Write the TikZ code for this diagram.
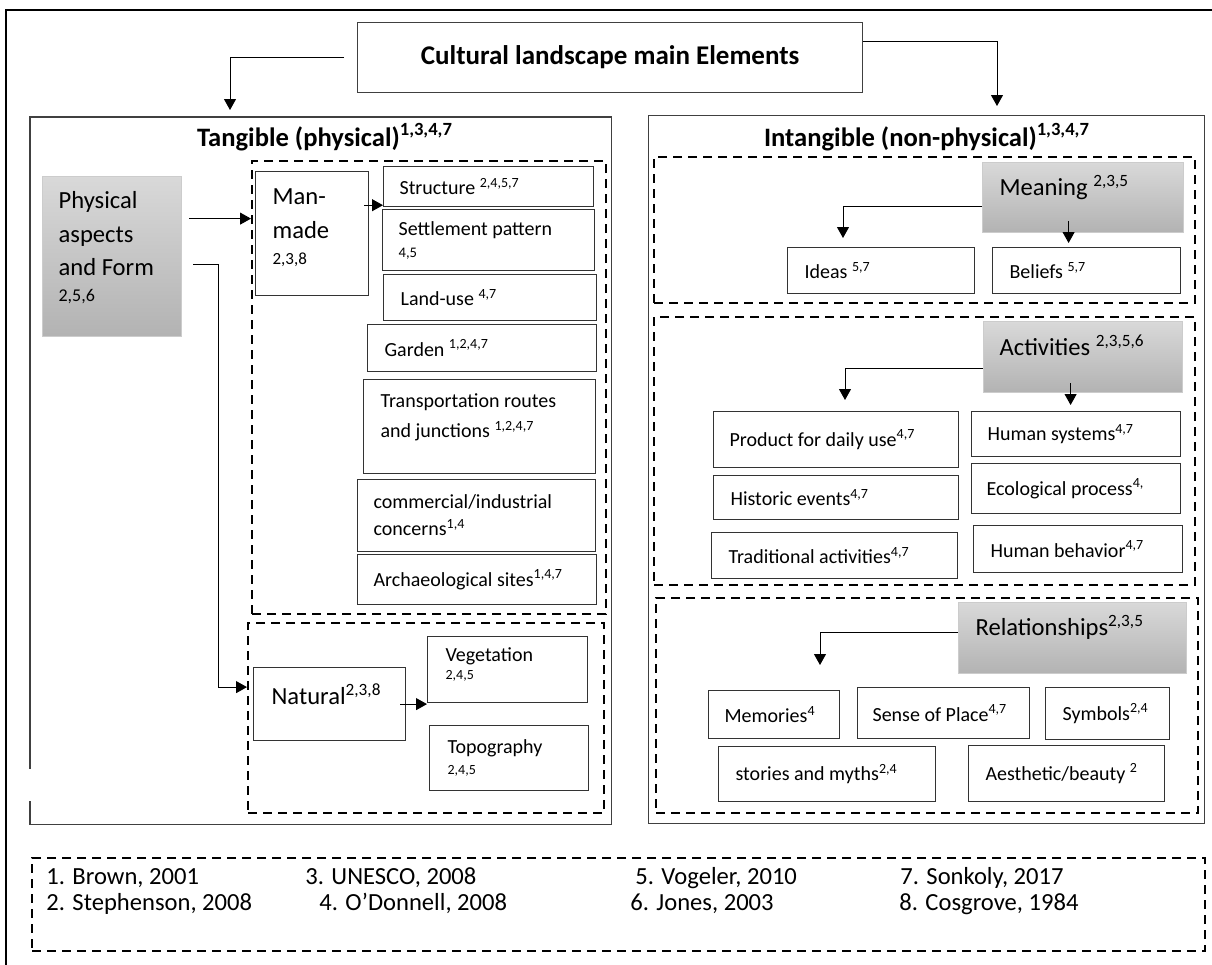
\documentclass[tikz,border=0pt]{standalone}
\usepackage{fontspec}
\setmainfont{Carlito}
\usepackage{tikz}
\usetikzlibrary{calc}
\usetikzlibrary{arrows.meta}
\tikzstyle{panelbox}=[anchor=north west, inner sep=0pt, draw=black!75, line width=0.6pt]
\tikzstyle{groupbox}=[anchor=north west, inner sep=0pt, draw=black, line width=1.1pt, dash pattern=on 4.5pt off 3pt]
\tikzstyle{itembox}=[anchor=north west, inner ysep=0pt, draw=black!80, line width=0.6pt, align=flush left, font=\fontsize{10}{12.2}\selectfont]
\tikzstyle{greybox}=[anchor=north west, inner ysep=0pt, draw=black!20, line width=0.6pt, top color=black!15, bottom color=black!30, align=flush left, font=\fontsize{12.3}{16.7}\selectfont]
\tikzstyle{headtext}=[inner sep=0pt, font=\bfseries\fontsize{13.3}{16}\selectfont]
\tikzstyle{reftext}=[anchor=base west, inner sep=0pt, font=\fontsize{12.3}{15}\selectfont]
\tikzstyle{linkarrow}=[-{Triangle[length=5.5pt, width=6pt]}, line width=0.5pt, black]

\begin{document}
\begin{tikzpicture}[x=0.5pt, y=-0.5pt]
\useasboundingbox (0,0) rectangle (1212,965);
\draw [line width=1pt] (6,965) -- (6,10) -- (1212,10);

% title and the two panels
\node [panelbox, minimum width=252.5pt, minimum height=35pt, font=\bfseries\fontsize{13.5}{16}\selectfont] (title) at (357,22) {Cultural landscape main Elements};
\node [panelbox, draw=none, minimum width=290pt, minimum height=353pt] (tangible) at (30,117) {};
\draw [black!75, line width=0.6pt] ([yshift=11.5pt]tangible.south west) -- (tangible.south west) -- (tangible.south east) -- (tangible.north east) -- (tangible.north west) -- ([yshift=27.5pt]tangible.south west);
\node [panelbox, minimum width=278pt, minimum height=354pt] (intangible) at (648,115) {};
\node [headtext] (tantitle) at (325,137) {Tangible (physical)\textsuperscript{1,3,4,7}};
\node [headtext] (inttitle) at (927,137) {Intangible (non-physical)\textsuperscript{1,3,4,7}};

% tangible side
\node [greybox, minimum width=69.5pt, minimum height=80pt, inner xsep=8pt, text width=53.5pt, text height=9pt, text depth=57pt] (phys) at (42,176) {Physical\\aspects\\and Form\\[-3.5pt]{\fontsize{9}{9}\selectfont 2,5,6}};
\node [groupbox, minimum width=177pt, minimum height=226.5pt] (mangroup) at (251,160) {};
\node [itembox, minimum width=56.5pt, minimum height=62pt, inner xsep=8.5pt, text width=39.5pt, font=\fontsize{12.3}{16.7}\selectfont, text height=8pt, text depth=37pt] (man) at (255,171) {Man-\\made\\[-3.5pt]{\fontsize{8.5}{8.5}\selectfont 2,3,8}};
\node [itembox, minimum width=105pt, minimum height=20pt, inner xsep=8pt, text width=89pt] (structure) at (383,166) {Structure \textsuperscript{2,4,5,7}};
\node [itembox, minimum width=106pt, minimum height=30.5pt, inner xsep=8pt, text width=90pt] (settlement) at (382,209) {Settlement pattern\\[-1.2pt]{\fontsize{7.3}{7.3}\selectfont 4,5}};
\node [itembox, minimum width=106.5pt, minimum height=23pt, inner xsep=8.5pt, text width=89.5pt] (landuse) at (383,274) {Land-use \textsuperscript{4,7}};
\node [itembox, minimum width=114.5pt, minimum height=23.5pt, inner xsep=8.5pt, text width=97.5pt] (garden) at (367,324) {Garden \textsuperscript{1,2,4,7}};
\node [itembox, minimum width=116pt, minimum height=47pt, inner xsep=8.5pt, text width=99pt, text height=7.5pt, text depth=26.5pt] (transport) at (363,379) {Transportation routes\\[2.8pt]and junctions \textsuperscript{1,2,4,7}};
\node [itembox, minimum width=119pt, minimum height=36pt, inner xsep=8pt, text width=103pt] (commercial) at (357,479) {commercial/industrial\\[1.3pt]concerns\textsuperscript{1,4}};
\node [itembox, minimum width=119.5pt, minimum height=25pt, inner xsep=8pt, text width=103.5pt] (archaeo) at (357,554) {Archaeological sites\textsuperscript{1,4,7}};
\node [groupbox, minimum width=178pt, minimum height=95pt] (natgroup) at (247,622) {};
\node [itembox, minimum width=76pt, minimum height=36.5pt, inner xsep=9pt, text width=58pt, font=\fontsize{12.3}{15}\selectfont, text height=9pt, text depth=9pt] (natural) at (253,667) {Natural\textsuperscript{2,3,8}};
\node [itembox, minimum width=80pt, minimum height=33pt, inner xsep=9pt, text width=62pt, text height=7.5pt, text depth=16pt] (vegetation) at (427,636) {Vegetation\\[-3pt]{\fontsize{7}{7}\selectfont 2,4,5}};
\node [itembox, minimum width=79.5pt, minimum height=32.5pt, inner xsep=9pt, text width=61.5pt] (topography) at (429,725) {Topography\\[-1.7pt]{\fontsize{7}{7}\selectfont 2,4,5}};

% intangible side
\node [groupbox, minimum width=270.5pt, minimum height=73pt] (meangroup) at (653,156) {};
\node [greybox, minimum width=100.5pt, minimum height=35pt, inner xsep=8.5pt, text width=83.5pt, text height=9pt, text depth=11pt] (meaning) at (982,162) {Meaning \textsuperscript{2,3,5}};
\node [itembox, minimum width=93.5pt, minimum height=23pt, inner xsep=8.5pt, text width=76.5pt] (ideas) at (787,247) {Ideas \textsuperscript{5,7}};
\node [itembox, minimum width=94pt, minimum height=23pt, inner xsep=8.5pt, text width=77pt] (beliefs) at (992,247) {Beliefs \textsuperscript{5,7}};
\node [groupbox, minimum width=270.5pt, minimum height=134pt] (actgroup) at (653,316) {};
\node [greybox, minimum width=99.5pt, minimum height=35.5pt, inner xsep=8pt, text width=83.5pt, text height=9pt, text depth=10.5pt] (activities) at (983,321) {Activities \textsuperscript{2,3,5,6}};
\node [itembox, minimum width=122.5pt, minimum height=28pt, inner xsep=8pt, text width=106.5pt] (product) at (713,411) {Product for daily use\textsuperscript{4,7}};
\node [itembox, minimum width=104.5pt, minimum height=22.5pt, inner xsep=8pt, text width=88.5pt] (humsys) at (971,411) {Human systems\textsuperscript{4,7}};
\node [itembox, minimum width=104.5pt, minimum height=25pt, inner xsep=7.5pt, text width=89.5pt] (ecological) at (971,463) {Ecological process\textsuperscript{4,}};
\node [itembox, minimum width=122.5pt, minimum height=22pt, inner xsep=8.5pt, text width=105.5pt] (historic) at (713,475) {Historic events\textsuperscript{4,7}};
\node [itembox, minimum width=123pt, minimum height=23pt, inner xsep=8.5pt, text width=106pt] (traditional) at (711,532) {Traditional activities\textsuperscript{4,7}};
\node [itembox, minimum width=104.5pt, minimum height=23.5pt, inner xsep=8.5pt, text width=87.5pt] (humbeh) at (973,525) {Human behavior\textsuperscript{4,7}};
\node [groupbox, minimum width=271pt, minimum height=107.5pt] (relgroup) at (655,597) {};
\node [greybox, minimum width=114pt, minimum height=35.5pt, inner xsep=8.5pt, text width=97pt, text height=9pt, text depth=11.5pt] (relations) at (958,602) {Relationships\textsuperscript{2,3,5}};
\node [itembox, minimum width=65.5pt, minimum height=24pt, inner xsep=8pt, text width=49.5pt] (memories) at (708,690) {Memories\textsuperscript{4}};
\node [itembox, minimum width=86pt, minimum height=25.5pt, inner xsep=7.5pt, text width=71pt] (senseplace) at (857,687) {Sense of Place\textsuperscript{4,7}};
\node [itembox, minimum width=62pt, minimum height=26pt, inner xsep=8.5pt, text width=45pt] (symbols) at (1045,687) {Symbols\textsuperscript{2,4}};
\node [itembox, minimum width=108.5pt, minimum height=27.5pt, inner xsep=8.5pt, text width=91.5pt] (stories) at (718,746) {stories and myths\textsuperscript{2,4}};
\node [itembox, minimum width=98pt, minimum height=28pt, inner xsep=8.5pt, text width=81pt] (aesthetic) at (968,745) {Aesthetic/beauty \textsuperscript{2}};

% references
\node [groupbox, minimum width=586.5pt, minimum height=46.5pt] (refgroup) at (31,857) {};
\node [reftext] (ref1) at (46,884) {1. Brown, 2001};
\node [reftext] (ref2) at (46,910) {2. Stephenson, 2008};
\node [reftext] (ref3) at (305,884) {3. UNESCO, 2008};
\node [reftext] (ref4) at (319,910) {4. O'Donnell, 2008};
\node [reftext] (ref5) at (635,884) {5. Vogeler, 2010};
\node [reftext] (ref6) at (630,910) {6. Jones, 2003};
\node [reftext] (ref7) at (900,884) {7. Sonkoly, 2017};
\node [reftext] (ref8) at (899,910) {8. Cosgrove, 1984};

% connectors
\coordinate (tanin) at (230,110);
\coordinate (intin) at (997,106);
\coordinate (ideasin) at (843,238);
\coordinate (prodin) at (845,400);
\coordinate (relin) at (820,665);
\draw [linkarrow] ([xshift=-6.5pt]title.west) -| (tanin);
\draw [linkarrow] ([yshift=8pt]title.east) -| (intin);
\draw [linkarrow] ([xshift=3.5pt,yshift=19pt]phys.east) coordinate (p1) -- (p1 -| mangroup.west);
\draw [linkarrow] ([xshift=5.5pt,yshift=-4pt]phys.east) -- ++(12.5pt,0pt) |- ([yshift=15.5pt]natgroup.west);
\draw [linkarrow] ($(man.east |- structure.south west)+(-2.5pt,1pt)$) -- ($(structure.south west)+(0pt,1pt)$);
\draw [linkarrow] ([xshift=-3pt]natural.east) -- (natural.east -| vegetation.west);
\draw [linkarrow] ([yshift=-4.5pt]meaning.west) -| (ideasin);
\draw [linkarrow] ($(meaning.south)+(-7.25pt,6pt)$) coordinate (m2) -- ($(m2 |- beliefs.north)+(0pt,2pt)$);
\draw [linkarrow] ([yshift=-5.5pt]activities.west) -| (prodin);
\draw [linkarrow] ($(activities.south)+(-6.25pt,5pt)$) coordinate (a2) -- ($(a2 |- humsys.north)+(0pt,3pt)$);
\draw [linkarrow] ([yshift=2.75pt]relations.west) -| (relin);
\end{tikzpicture}
\end{document}
